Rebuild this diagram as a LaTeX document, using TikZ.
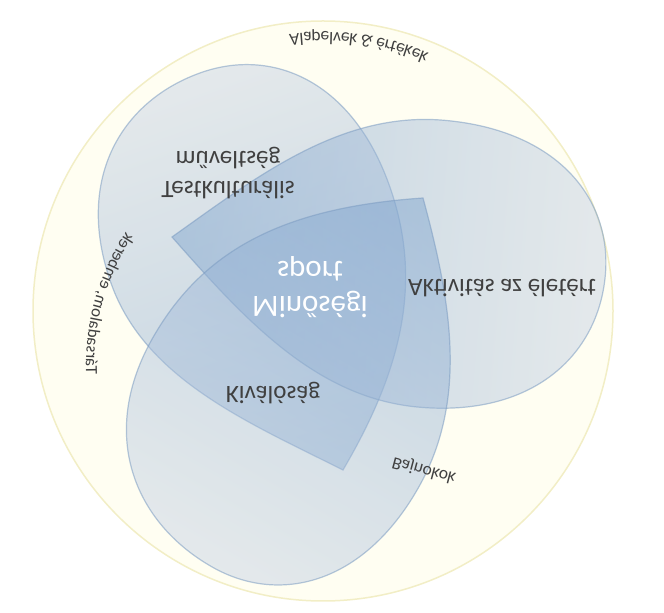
\documentclass[tikz,border=0pt]{standalone}
\usepackage{fontspec}
\setmainfont{Carlito}
\usetikzlibrary{decorations.text}
\definecolor{creamfill}{HTML}{FFFEF2}
\definecolor{creamline}{HTML}{F2EEC6}
\definecolor{petaltip}{HTML}{78A0CC}
\definecolor{petalfar}{HTML}{C4D0E4}
\definecolor{petalline}{HTML}{7C9CC2}
\definecolor{labelgray}{HTML}{404040}

% darker near the tip of a petal, light towards its far end
\pgfdeclarehorizontalshading{petalshade}{100bp}{color(0bp)=(petaltip); color(25bp)=(petaltip);
  color(75bp)=(petalfar); color(100bp)=(petalfar)}

% one petal: tip at the origin, pointing along +x
% #1 length, #2/#3 width and tip slope of the +y side, #4/#5 the same for the -y side
\newcommand{\petalpath}[5]{(0,0) .. controls (0.18*#1,0.18*#1*#3) and (0.36*#1,#2) .. (0.6*#1,#2)
  .. controls (0.86*#1,#2) and (#1,0.55*#2) .. (#1,0)
  .. controls (#1,-0.55*#4) and (0.86*#1,-#4) .. (0.6*#1,-#4)
  .. controls (0.36*#1,-#4) and (0.18*#1,-0.18*#1*#5) .. cycle}

\tikzset{
  petal/.style={shade, shading=petalshade, fill opacity=0.45,
    draw=petalline, draw opacity=0.55, line width=1.2pt},
  biglabel/.style={text=labelgray, font=\fontsize{25}{30}\selectfont, align=center},
  ringlabel/.style={font=\fontsize{17.5}{17.5}\selectfont\color{labelgray}}
}

\begin{document}
\begin{tikzpicture}[x=1pt, y=1pt]
\useasboundingbox (0,0) rectangle (664,613);
\begin{scope}[transform canvas={yshift=613pt, yscale=-1}]
\draw[fill=creamfill, draw=creamline, line width=1.5pt] (323,311) circle (290);
\coordinate (ringctr) at (323,311);
\coordinate (sidectr) at (331,366);

% the three petals, tips towards the middle
\begin{scope}[transform canvas={shift={(343,470)}, rotate=-109.8}]
  \draw[petal] \petalpath{422}{140}{1.2}{155}{0.95};
\end{scope}
\begin{scope}[transform canvas={shift={(172,237)}, rotate=5}]
  \draw[petal] \petalpath{435}{148}{0.95}{140}{0.85};
\end{scope}
\begin{scope}[transform canvas={shift={(423,198)}, rotate=119.8}]
  \draw[petal] \petalpath{425}{165}{1.5}{140}{1.0};
\end{scope}

\node[biglabel] (tk) at (228,173) {Testkulturális\\műveltség};
\node[biglabel] (akt) at (502,288) {Aktivitás az életért};
\node[biglabel] (kiv) at (273,393) {Kiválóság};
\node[text=white, font=\fontsize{31}{35}\selectfont, align=center] (ms) at (310,287) {Minőségi\\sport};

\path[decorate, decoration={text along path, text={|\fontsize{17.5}{17.5}\selectfont\color{labelgray}|Alapelvek {\&} értékek}}]
  ([shift={(263:279)}]ringctr) arc[start angle=263, end angle=300, radius=279];
\path[decorate, decoration={text along path, text={|\fontsize{17}{17}\selectfont\color{labelgray}|Társadalom, emberek}}]
  ([shift={(178:245)}]sidectr) arc[start angle=178, end angle=222, radius=245];
\node[ringlabel, rotate=15] (baj) at (424,470) {Bajnokok};
\end{scope}
\end{tikzpicture}
\end{document}
